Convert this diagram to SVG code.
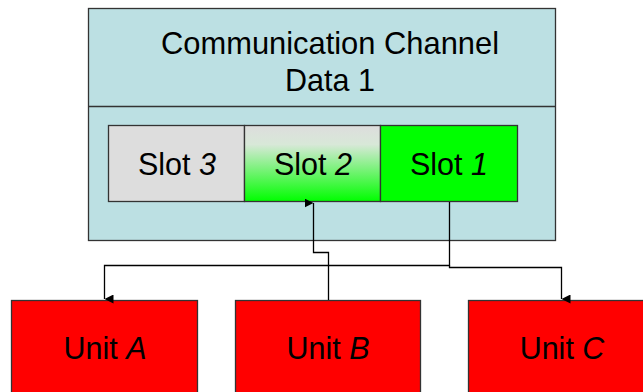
<svg xmlns="http://www.w3.org/2000/svg" width="643" height="392" viewBox="0 0 643 392">
<style>
text{font-family:"Liberation Sans",Arial,sans-serif;font-size:30.5px;fill:#000;text-anchor:middle}
.b{stroke:#333;stroke-width:1.3}
.c{fill:none;stroke:#000;stroke-width:1.3}
</style>
<defs>
<linearGradient id="g2" x1="0" y1="0" x2="0" y2="1">
<stop offset="0" stop-color="#dddddd"/>
<stop offset="0.25" stop-color="#d8e8d8"/>
<stop offset="1" stop-color="#00ff00"/>
</linearGradient>
<marker id="ah" markerWidth="9" markerHeight="9" refX="4.5" refY="9" orient="auto-start-reverse" markerUnits="userSpaceOnUse" viewBox="0 0 9 9">
<path d="M0,0 L9,0 L4.5,9 Z" fill="#000"/>
</marker>
</defs>
<g id="channel">
<rect class="b" x="88.5" y="8.5" width="467" height="232" fill="#bce0e3"/>
<line class="b" x1="88.5" y1="106.5" x2="555.5" y2="106.5"/>
<text x="330" y="54" textLength="338" lengthAdjust="spacingAndGlyphs">Communication Channel</text>
<text x="330" y="91">Data 1</text>
</g>
<g id="slot3">
<rect class="b" x="108.5" y="125.5" width="136" height="76" fill="#dddddd"/>
<text x="177" y="175">Slot <tspan font-style="italic">3</tspan></text>
</g>
<g id="slot2">
<rect class="b" x="244.5" y="125.5" width="136" height="76" fill="url(#g2)"/>
<text x="313" y="175">Slot <tspan font-style="italic">2</tspan></text>
</g>
<g id="slot1">
<rect class="b" x="380.5" y="125.5" width="137" height="76" fill="#00ff00"/>
<text x="449" y="175">Slot <tspan font-style="italic">1</tspan></text>
</g>
<g id="unitA">
<rect class="b" x="11.5" y="300.5" width="186" height="100" fill="#ff0000"/>
<text x="105" y="359">Unit <tspan font-style="italic">A</tspan></text>
</g>
<g id="unitB">
<rect class="b" x="235.5" y="300.5" width="185" height="100" fill="#ff0000"/>
<text x="328" y="359">Unit <tspan font-style="italic">B</tspan></text>
</g>
<g id="unitC">
<rect class="b" x="468.5" y="300.5" width="190" height="100" fill="#ff0000"/>
<text x="562" y="359">Unit <tspan font-style="italic">C</tspan></text>
</g>
<g id="connectors">
<path class="c" d="M449.5,202 V265.5 H104.5 V299" marker-end="url(#ah)"/>
<path class="c" d="M449.5,265.5 V267.5 H561.5 V299" marker-end="url(#ah)"/>
<path class="c" d="M328.5,300 V252.5 H313.5 V203" marker-end="url(#ah)"/>
</g>
</svg>
